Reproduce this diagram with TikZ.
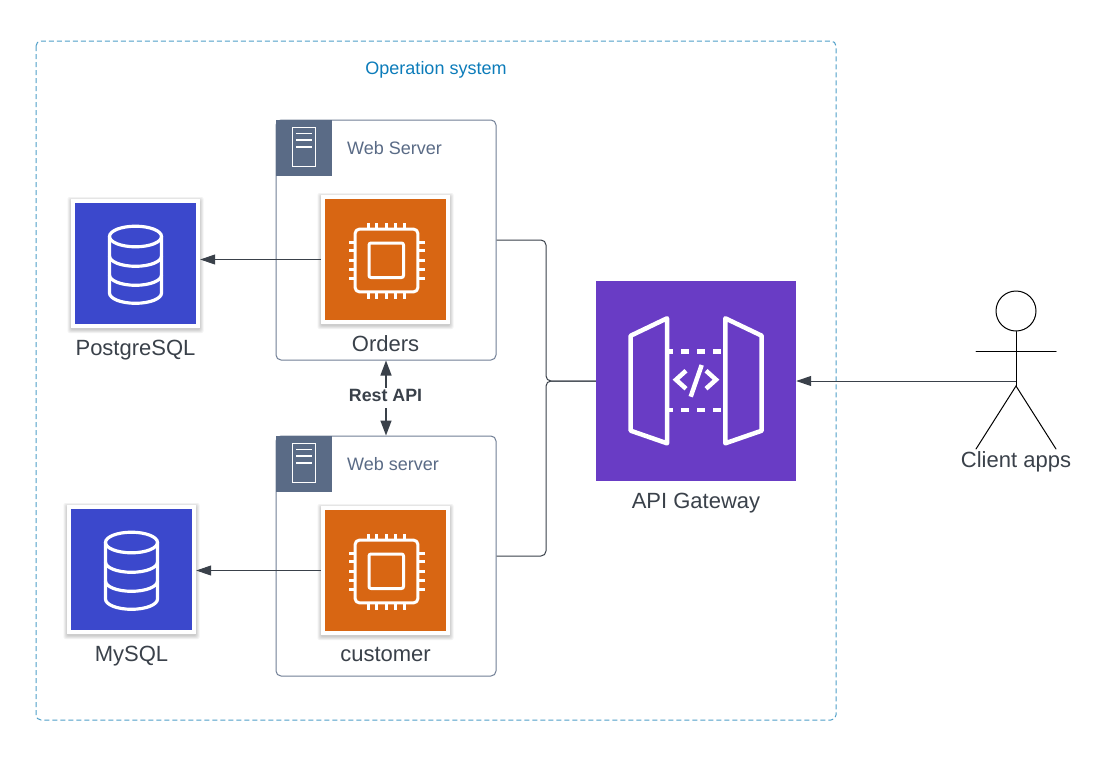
\documentclass[tikz,border=0pt]{standalone}
\usepackage{fontspec}
\setmainfont{Liberation Sans}
\usetikzlibrary{arrows.meta,calc}
\definecolor{ink}{HTML}{3A414A}
\definecolor{slatec}{HTML}{5A6B86}
\definecolor{framec}{HTML}{717F96}
\definecolor{dashc}{HTML}{4F9FC8}
\definecolor{opc}{HTML}{0C7CBA}
\definecolor{orangec}{HTML}{D86613}
\definecolor{bluec}{HTML}{3B48CC}
\definecolor{purplec}{HTML}{693CC5}
\tikzset{
  sysframe/.style={draw=dashc,line width=1pt,dash pattern=on 5pt off 3pt,rounded corners=5pt},
  serverbox/.style={draw=framec,line width=1pt,rounded corners=5pt,minimum width=220pt,minimum height=240pt,inner sep=0pt},
  headtile/.style={fill=slatec,minimum size=56pt,inner sep=0pt},
  frametile/.style={fill=white,minimum size=129pt,inner sep=0pt},
  chiptile/.style={fill=orangec,minimum size=121pt,inner sep=0pt},
  dbtile/.style={fill=bluec,minimum size=121pt,inner sep=0pt},
  gatetile/.style={fill=purplec,minimum size=200pt,inner sep=0pt},
  biglabel/.style={text=ink,font=\fontsize{22}{26}\selectfont,inner sep=0pt},
  smalllabel/.style={text=slatec,font=\fontsize{18}{22}\selectfont,inner sep=0pt,anchor=west},
  glyph/.style={draw=white,line width=3pt,line join=round,line cap=round},
  link/.style={draw=ink,line width=1pt},
  tip/.style={-{Triangle[length=15pt,width=10pt]}},
  bitip/.style={{Triangle[length=15pt,width=11pt]}-{Triangle[length=15pt,width=11pt]}},
  stick/.style={draw=black,line width=1pt,line cap=round},
}
\newcommand{\softshadow}[3]{% centre x, centre y, half size
  \foreach \g in {0.5,1.5,2.5,3.5}{
    \fill[black,opacity=.05,rounded corners=2pt]
      ({#1-#3-\g},{#2-#3-\g+1.5}) rectangle ({#1+#3+\g},{#2+#3+\g+1.5});
  }}
\newcommand{\chipglyph}[2]{%
  \begin{scope}[shift={(#1,#2)}]
    \draw[glyph,rounded corners=4pt] (-30.3,-30.3) rectangle (32.3,32.3);
    \draw[glyph,rounded corners=2pt] (-16.5,-16.5) rectangle (18,18);
    \foreach \p in {-17.5,-8.6,0.7,10,19}{
      \draw[draw=white,line width=3pt] (\p,-30.3) -- (\p,-37);
      \draw[draw=white,line width=3pt] (\p,32.3) -- (\p,39);
      \draw[draw=white,line width=3pt] (-30.3,\p) -- (-37,\p);
      \draw[draw=white,line width=3pt] (32.3,\p) -- (39,\p);
    }
  \end{scope}}
\newcommand{\dbglyph}[2]{%
  \begin{scope}[shift={(#1,#2)}]
    \draw[glyph,line width=3.2pt] (0,-27) ellipse [x radius=26,y radius=10.3];
    \draw[glyph,line width=3.2pt] (-26,-27) -- (-26,29.5) arc[start angle=180,end angle=0,x radius=26,y radius=10.3] -- (26,-27);
    \draw[glyph,line width=3.2pt] (-26,-7.5) arc[start angle=180,end angle=0,x radius=26,y radius=10.3];
    \draw[glyph,line width=3.2pt] (-26,11.5) arc[start angle=180,end angle=0,x radius=26,y radius=10.3];
  \end{scope}}
\newcommand{\serverglyph}[2]{%
  \begin{scope}[shift={(#1,#2)}]
    \draw[draw=white,line width=1.3pt] (-11.7,-19.5) rectangle (11.7,19.5);
    \foreach \q in {-13.8,-7.1,-0.1}{
      \draw[draw=white,line width=1.3pt] (-8,\q) -- (8,\q);
    }
  \end{scope}}
\begin{document}
\begin{tikzpicture}[x=1pt,y=-1pt]
\useasboundingbox (0,0) rectangle (1116,758);
\fill[white] (0,0) rectangle (1116,758);
% system frame
\draw[sysframe] (36,41) rectangle (836,720);
\node[text=opc,font=\fontsize{18}{22}\selectfont,inner sep=0pt] (sysl) at (436,70) {Operation system};
% server boxes
\node[serverbox,fill=white] (boxA) at (386,240) {};
\node[serverbox,fill=white] (boxB) at (386,556) {};
\node[headtile] (headA) at (304,148) {};
\node[headtile] (headB) at (304,464) {};
\serverglyph{304}{147.2}
\serverglyph{304}{463.2}
\node[smalllabel] (wsA) at (347,148) {Web Server};
\node[smalllabel] (wsB) at (347,464) {Web server};
% compute tiles
\softshadow{385.5}{259.5}{64.5}
\softshadow{385.5}{570.5}{64.5}
\node[frametile] (frameA) at (385.5,259.5) {};
\node[frametile] (frameB) at (385.5,570.5) {};
\node[chiptile] (chipA) at (385.5,259.5) {};
\node[chiptile] (chipB) at (385.5,570.5) {};
\chipglyph{385.5}{259.5}
\chipglyph{385.5}{570.5}
\node[biglabel] (ordersl) at (385.5,344) {Orders};
\node[biglabel] (customerl) at (385.5,654) {customer};
% databases
\softshadow{135.5}{263.5}{64.5}
\softshadow{131.5}{569.5}{64.5}
\node[frametile] (frameP) at (135.5,263.5) {};
\node[frametile] (frameM) at (131.5,569.5) {};
\node[dbtile] (dbP) at (135.5,263.5) {};
\node[dbtile] (dbM) at (131.5,569.5) {};
\dbglyph{135.5}{263.5}
\dbglyph{131.5}{569.5}
\node[biglabel] (pgl) at (135.5,350) {PostgreSQL};
\node[biglabel] (myl) at (131.5,656) {MySQL};
% gateway
\node[gatetile] (gw) at (696,381) {};
\begin{scope}[shift={(gw.center)}]
  \draw[glyph,line width=4.5pt] (-65.3,-45.3) -- (-29,-62.7) -- (-29,62.3) -- (-65.3,49.7) -- cycle;
  \draw[glyph,line width=4.5pt] (29.3,-62.7) -- (65.7,-45.3) -- (65.7,49.7) -- (29.3,62.3) -- cycle;
  \draw[draw=white,line width=4.5pt,dash pattern=on 8.3pt off 7.7pt,dash phase=4pt] (-27,-29.3) -- (29,-29.3);
  \draw[draw=white,line width=4.5pt,dash pattern=on 8.3pt off 7.7pt,dash phase=4pt] (-27,29) -- (29,29);
  \draw[draw=white,line width=4.5pt] (-10,-10.3) -- (-20,-1.3) -- (-10,7.7);
  \draw[draw=white,line width=4.5pt] (10,-10.3) -- (20,-1.3) -- (10,7.7);
  \draw[draw=white,line width=4.5pt] (5.7,-16) -- (-5.3,15.7);
\end{scope}
\node[biglabel] (gwl) at (696,503) {API Gateway};
% actor
\node[draw=black,line width=1pt,circle,minimum size=40pt,inner sep=0pt] (head) at (1016,311) {};
\coordinate (hip) at (1016,386);
\coordinate (armL) at (976,351);
\coordinate (armR) at (1056,351);
\coordinate (legL) at (976,449);
\coordinate (legR) at (1056,449);
\coordinate (grip) at (1016,381);
\draw[stick] (head.south) -- (hip);
\draw[stick] (armL) -- (armR);
\draw[stick] (legL) -- (hip) -- (legR);
\node[biglabel] (actl) at (1016,461.5) {Client apps};
% connectors
\coordinate (bus) at (546,381);
\draw[link,tip] (chipA.west -| frameA.west) -- (frameA.west -| frameP.east);
\draw[link,tip] (frameB.west) -- (frameB.west -| frameM.east);
\draw[link,rounded corners=5pt] (boxA.east) -| (bus) -- (gw.west);
\draw[link,rounded corners=5pt] (boxB.east) -| (bus) -- (gw.west);
\draw[link,tip] (grip) -- (gw.east);
\draw[link,line width=1.4pt,bitip] (boxA.south) -- (boxB.north)
  node[pos=.5,fill=white,inner sep=0pt,minimum height=20pt,minimum width=73pt] (restbg) {};
\node[text=ink,inner sep=0pt,font=\bfseries\fontsize{17.8}{20}\selectfont] (rest) at (385.5,395) {Rest API};
\end{tikzpicture}
\end{document}
